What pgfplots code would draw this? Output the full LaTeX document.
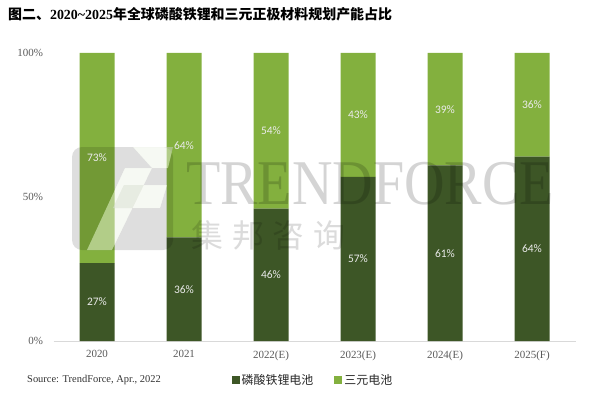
\documentclass[border=0pt]{standalone}
\usepackage{fontspec}
\setmainfont{Liberation Serif}
\newfontfamily\cjk{Noto Sans CJK SC}
\newfontfamily\lab{Carlito}
\usepackage{pgfplots}
\pgfplotsset{compat=1.18}
\definecolor{darkg}{RGB}{61,86,38}
\definecolor{lightg}{RGB}{131,176,62}
\definecolor{tickc}{RGB}{89,89,89}
\definecolor{palef}{RGB}{236,242,228}
\begin{document}
\begin{tikzpicture}[x=1bp,y=1bp]
\useasboundingbox (0,0) rectangle (600,393);
\pgfplotsset{base/.style={at={(53.5bp,52bp)}, anchor=south west, scale only axis,
  width=522bp, height=288bp, xmin=-0.5, xmax=5.5, ymin=0, ymax=100}}
\begin{axis}[base, ybar stacked, bar width=35bp,
  axis x line*=bottom, axis y line*=left,
  y axis line style={draw=none},
  x axis line style={draw=black!15, line width=0.8pt, -},
  major tick length=0,
  xtick={0,...,5}, xticklabels={2020,2021,2022(E),2023(E),2024(E),2025(F)},
  ytick={0,50,100}, yticklabel={\pgfmathprintnumber{\tick}\%},
  /pgf/number format/assume math mode=true,
  tick label style={font=\fontsize{11}{12}\selectfont, text=tickc},
  yticklabel style={xshift=-7bp},
  xticklabel style={yshift=-6bp},
  legend style={at={(0.497,-0.135)}, anchor=center, draw=none, fill=none,
    legend columns=2, font=\cjk\fontsize{12}{14}\selectfont, text=black!85,
    /tikz/every even column/.append style={column sep=19bp}},
  legend image code/.code={\fill[#1] (0bp,-4bp) rectangle (8bp,4bp);},
]
\addplot[fill=darkg, draw=none] coordinates {(0,27) (1,36) (2,46) (3,57) (4,61) (5,64)};
\addplot[fill=lightg, draw=none] coordinates {(0,73) (1,64) (2,54) (3,43) (4,39) (5,36)};
\legend{磷酸铁锂电池,三元电池}
\end{axis}
% watermark
\fill[black, opacity=0.13, even odd rule]
  [rounded corners=10bp] (72,143) rectangle (173,246)
  [rounded corners=0bp] (133,246) -- (173,246) -- (168,225) -- (125,225) -- (87,143) -- (112,143) -- (152,225) -- cycle
  (124,208) -- (167,208) -- (160,185) -- (113,185) -- cycle;
\fill[palef, opacity=0.45] (133,246) -- (173,246) -- (168,225) -- (125,225) -- (87,143) -- (112,143) -- (152,225) -- cycle;
\fill[palef, opacity=0.45] (124,208) -- (167,208) -- (160,185) -- (113,185) -- cycle;
\node[anchor=base west, inner sep=0, text depth=0bp, xscale=0.88, text=black, opacity=0.17,
  font=\fontsize{64}{64}\selectfont] at (186,189) {TRENDFORCE};
\node[anchor=west, inner sep=0, text=black, opacity=0.14,
  font=\cjk\fontsize{32}{32}\selectfont] at (191,158) {集\hspace{9bp}邦\hspace{9bp}咨\hspace{9bp}询};
% labels
\begin{axis}[base, hide axis,
  nodes near coords, point meta=explicit symbolic,
  every node near coord/.style={font=\lab\fontsize{11.5}{12}\selectfont, text=white!92!black, anchor=center, inner sep=0}]
\addplot[draw=none, mark=none] coordinates {(0,13.5) [27\%] (1,18) [36\%] (2,23) [46\%] (3,28.5) [57\%] (4,30.5) [61\%] (5,32) [64\%]};
\addplot[draw=none, mark=none] coordinates {(0,63.5) [73\%] (1,68) [64\%] (2,73) [54\%] (3,78.5) [43\%] (4,80.5) [39\%] (5,82) [36\%]};
\end{axis}
\node[anchor=west, inner sep=0, font=\bfseries\fontsize{14}{16}\selectfont] at (8,379)
  {{\cjk\bfseries 图二、}2020\textasciitilde 2025{\cjk\bfseries 年全球磷酸铁锂和三元正极材料规划产能占比}};
\node[anchor=west, inner sep=0, font=\fontsize{10.5}{12}\selectfont, text=black!80] at (27,13)
  {Source: TrendForce, Apr., 2022};
\end{tikzpicture}
\end{document}
